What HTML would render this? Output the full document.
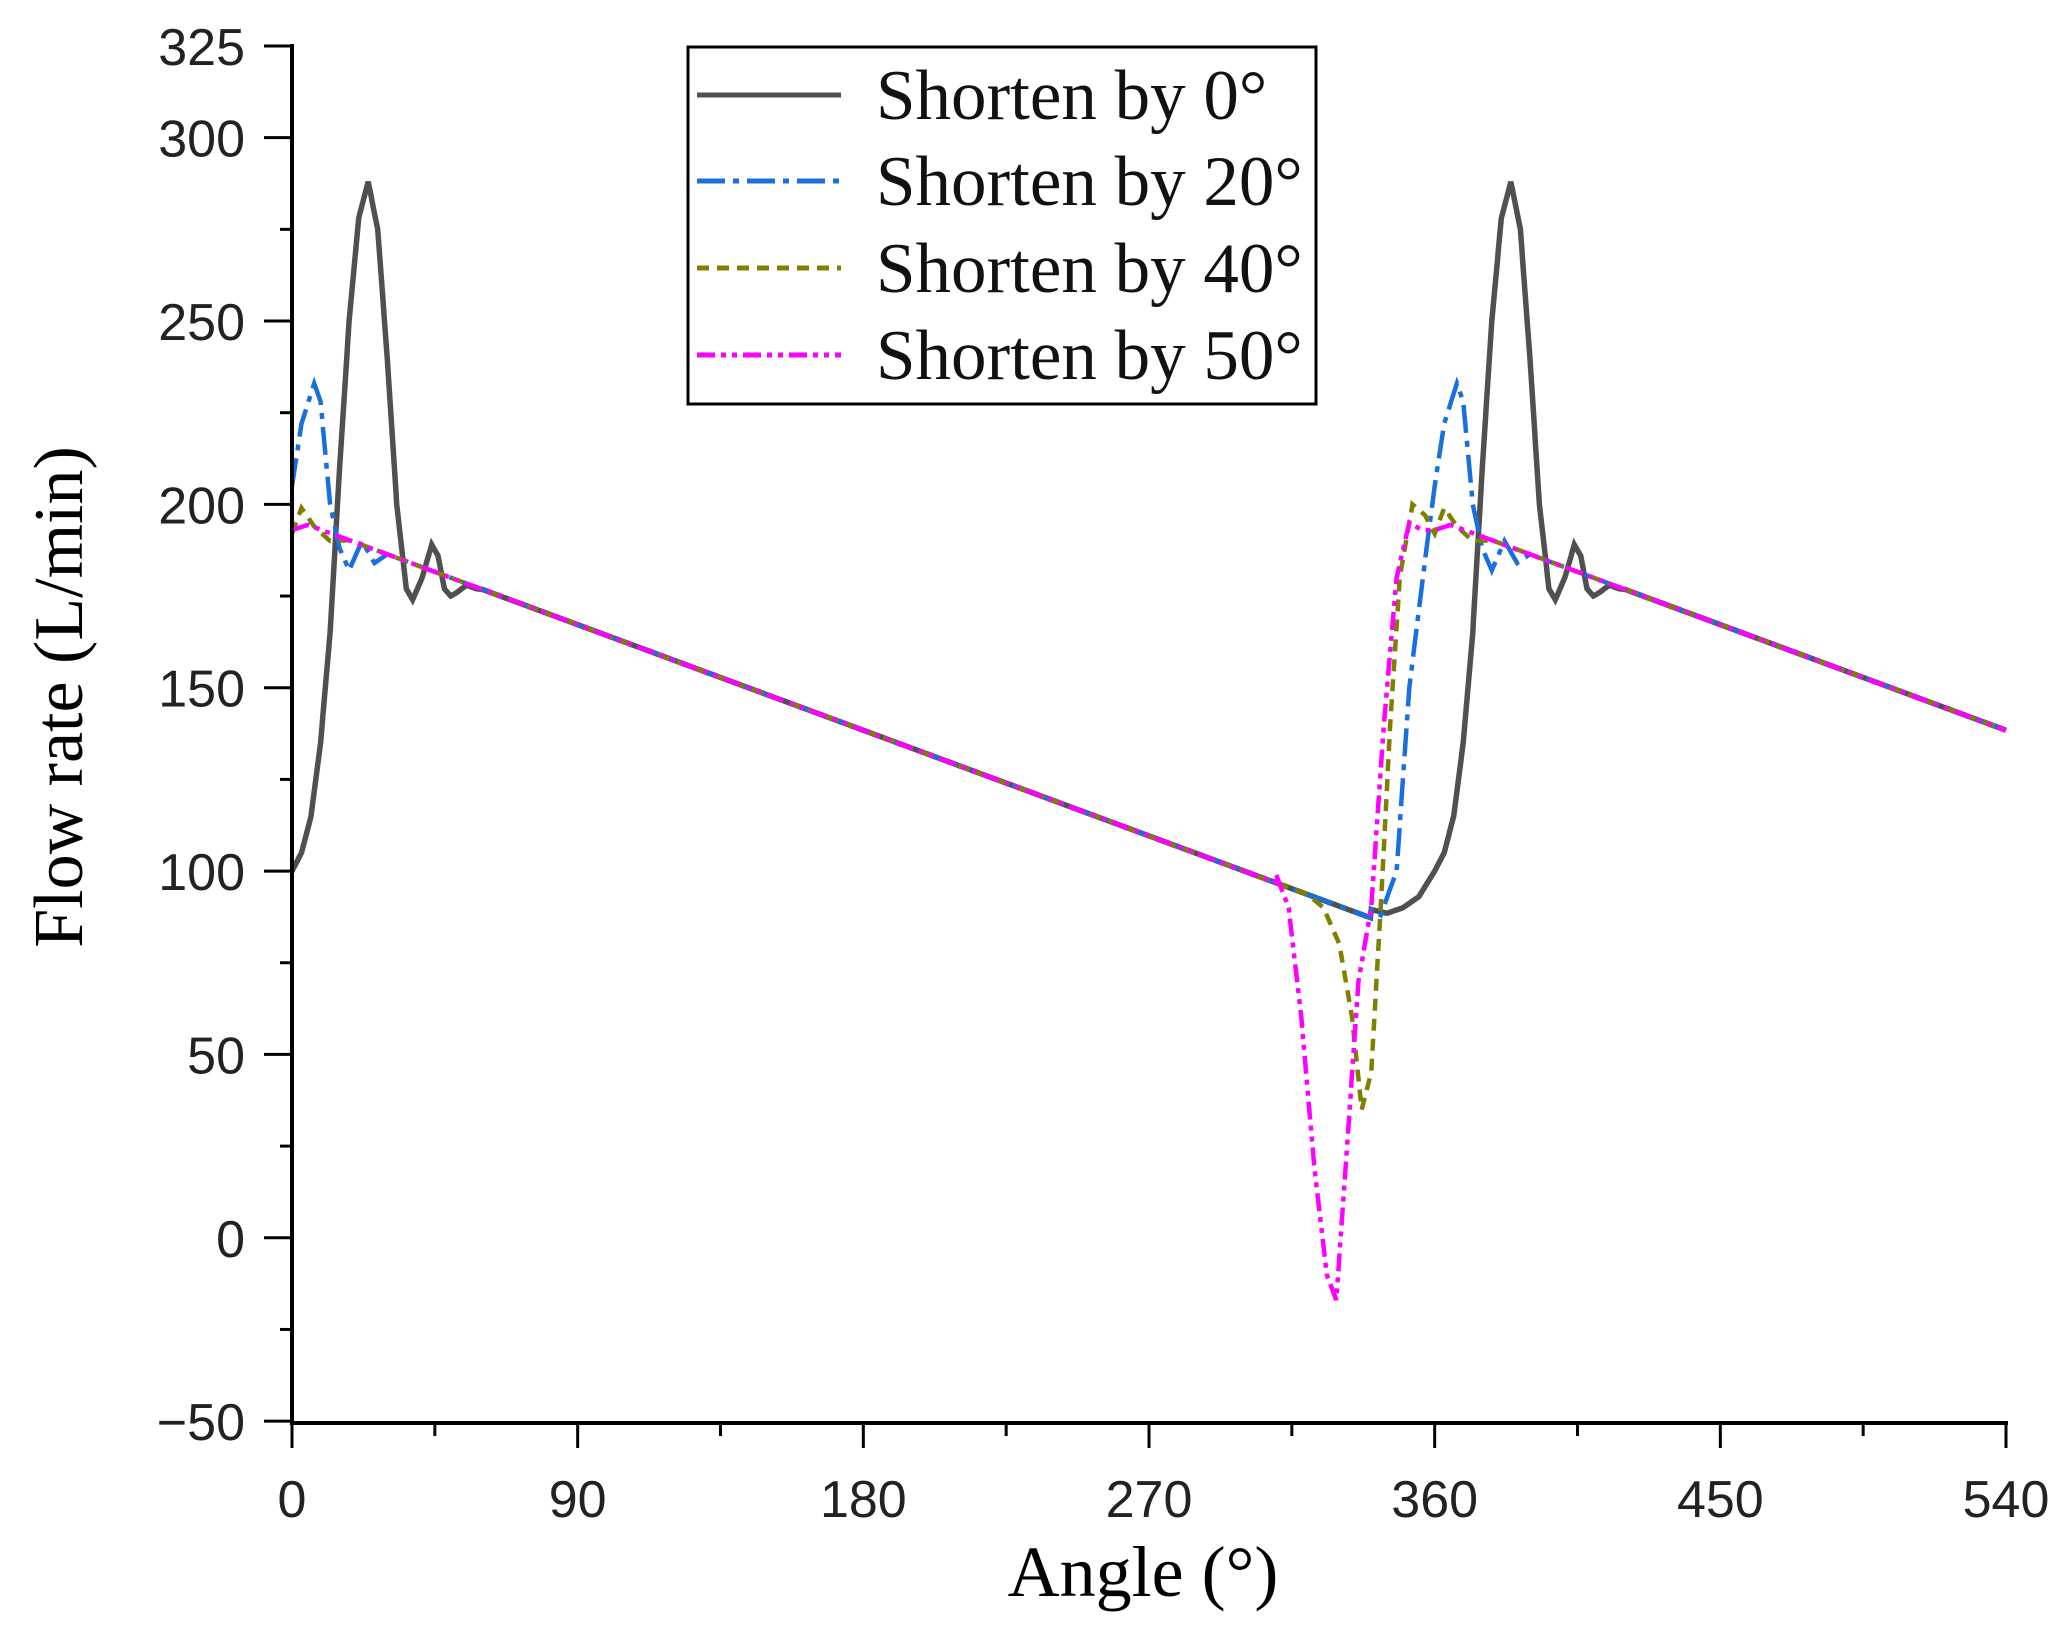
<!DOCTYPE html>
<html><head><meta charset="utf-8"><style>
body{margin:0;background:#fff}
svg{display:block}
</style></head><body>
<svg id="s" width="2061" height="1649" xmlns="http://www.w3.org/2000/svg">
<g id="plot"></g>
<g stroke="#000" stroke-width="4" fill="none">
<line x1="292" y1="44" x2="292" y2="1423"/>
<line x1="290" y1="1423" x2="2008" y2="1423"/>
</g>
<g id="ticks" stroke="#000" stroke-width="3"></g>
<g font-family="Liberation Sans, sans-serif" font-size="52" fill="#222" id="lab"></g>
<text x="1143" y="1596" text-anchor="middle" font-family="Liberation Serif, serif" font-size="72">Angle (°)</text>
<text transform="translate(82,697) rotate(-90)" text-anchor="middle" font-family="Liberation Serif, serif" font-size="70">Flow rate (L/min)</text>
<rect x="688" y="47" width="628" height="357" fill="#fff" stroke="#000" stroke-width="3"/>
<g stroke-width="5" fill="none">
<line x1="697" y1="95" x2="841" y2="95" stroke="#505050"/>
<line x1="697" y1="181" x2="841" y2="181" stroke="#1a6fdf" stroke-dasharray="28 8 6 8"/>
<line x1="697" y1="268" x2="841" y2="268" stroke="#808000" stroke-dasharray="12 8"/>
<line x1="697" y1="355" x2="841" y2="355" stroke="#ff00ff" stroke-dasharray="18 6 5 6 5 6"/>
</g>
<g font-family="Liberation Serif, serif" font-size="71" fill="#111">
<text x="876" y="119">Shorten by 0°</text>
<text x="876" y="205">Shorten by 20°</text>
<text x="876" y="292">Shorten by 40°</text>
<text x="876" y="379">Shorten by 50°</text>
</g>
</svg>
<script>
var NS="http://www.w3.org/2000/svg";
function X(t){return 292+t*(2006-292)/540;}
function Y(v){return 46+(325-v)*3.667;}
function base(t){var p=((t%360)+360)%360;return 196-0.32*p;}
function interp(pts,f){for(var i=0;i<pts.length-1;i++){if(f>=pts[i][0]&&f<=pts[i+1][0]){var a=pts[i],b=pts[i+1];return a[1]+(b[1]-a[1])*(f-a[0])/(b[0]-a[0]);}}return null;}
var shapes={
k:[[-20,89.5],[-15,88.5],[-10,90],[-5,93],[0,100],[3,105],[6,115],[9,135],[12,165],[15,210],[18,250],[21,278],[24,288],[27,275],[30,240],[33,200],[36,177],[38,174],[41,180],[44,189],[46,186],[48,177],[50,175],[52,176],[55,178],[58,177],[60,176.8]],
b:[[-20,89.6],[-17,88],[-12,100],[-8,150],[-3,185],[0,205],[3,222],[7,233],[9,228],[12,200],[15,188],[18,182],[22,190],[26,184],[30,186.4]],
o:[[-40,93.6],[-35,90],[-30,80],[-26,60],[-23,35],[-20,45],[-17,90],[-14,140],[-11,180],[-7,200],[-3,197],[0,192],[3,199],[7,194],[12,190],[18,190.2]],
m:[[-50,99.2],[-46,90],[-42,60],[-38,20],[-34,-10],[-31,-17],[-28,20],[-24,70],[-20,90],[-16,140],[-12,180],[-8,195],[-4,193],[0,193],[5,194.4]]
};
function val(sh,t){var v=null;if(t<=200){v=interp(sh,t);}else{v=interp(sh,t-360);}return v===null?base(t):v;}
var styles=[["k","#505050","",5.5],["b","#1a6fdf","28 8 6 8",4.5],["o","#808000","12 8",4.5],["m","#ff00ff","18 6 5 6 5 6",4.5]];
var g=document.getElementById("plot");
styles.forEach(function(s){var d="";for(var t=0;t<=540.001;t+=0.25){var v=val(shapes[s[0]],t);d+=(t==0?"M":"L")+X(t).toFixed(1)+","+Y(v).toFixed(1);}
var p=document.createElementNS(NS,"path");p.setAttribute("d",d);p.setAttribute("stroke",s[1]);p.setAttribute("stroke-width",s[3]);p.setAttribute("fill","none");if(s[2])p.setAttribute("stroke-dasharray",s[2]);g.appendChild(p);});
var tk=document.getElementById("ticks"),lab=document.getElementById("lab");
function line(x1,y1,x2,y2){var l=document.createElementNS(NS,"line");l.setAttribute("x1",x1);l.setAttribute("y1",y1);l.setAttribute("x2",x2);l.setAttribute("y2",y2);tk.appendChild(l);}
function txt(x,y,s,a){var t=document.createElementNS(NS,"text");t.setAttribute("x",x);t.setAttribute("y",y);t.setAttribute("text-anchor",a);t.textContent=s;lab.appendChild(t);}
for(var v=-50;v<=325;v+=25){var y=Y(v);var major=(v%50==0)||v==325;line(major?264:280,y,292,y);if(major)txt(245,y+19,v==-50?"\u221250":String(v),"end");}
for(var t=0;t<=540;t+=45){var x=X(t);var major=t%90==0;line(x,1423,x,major?1448:1436);if(major)txt(x,1517,String(t),"middle");}
</script>
</body></html>
